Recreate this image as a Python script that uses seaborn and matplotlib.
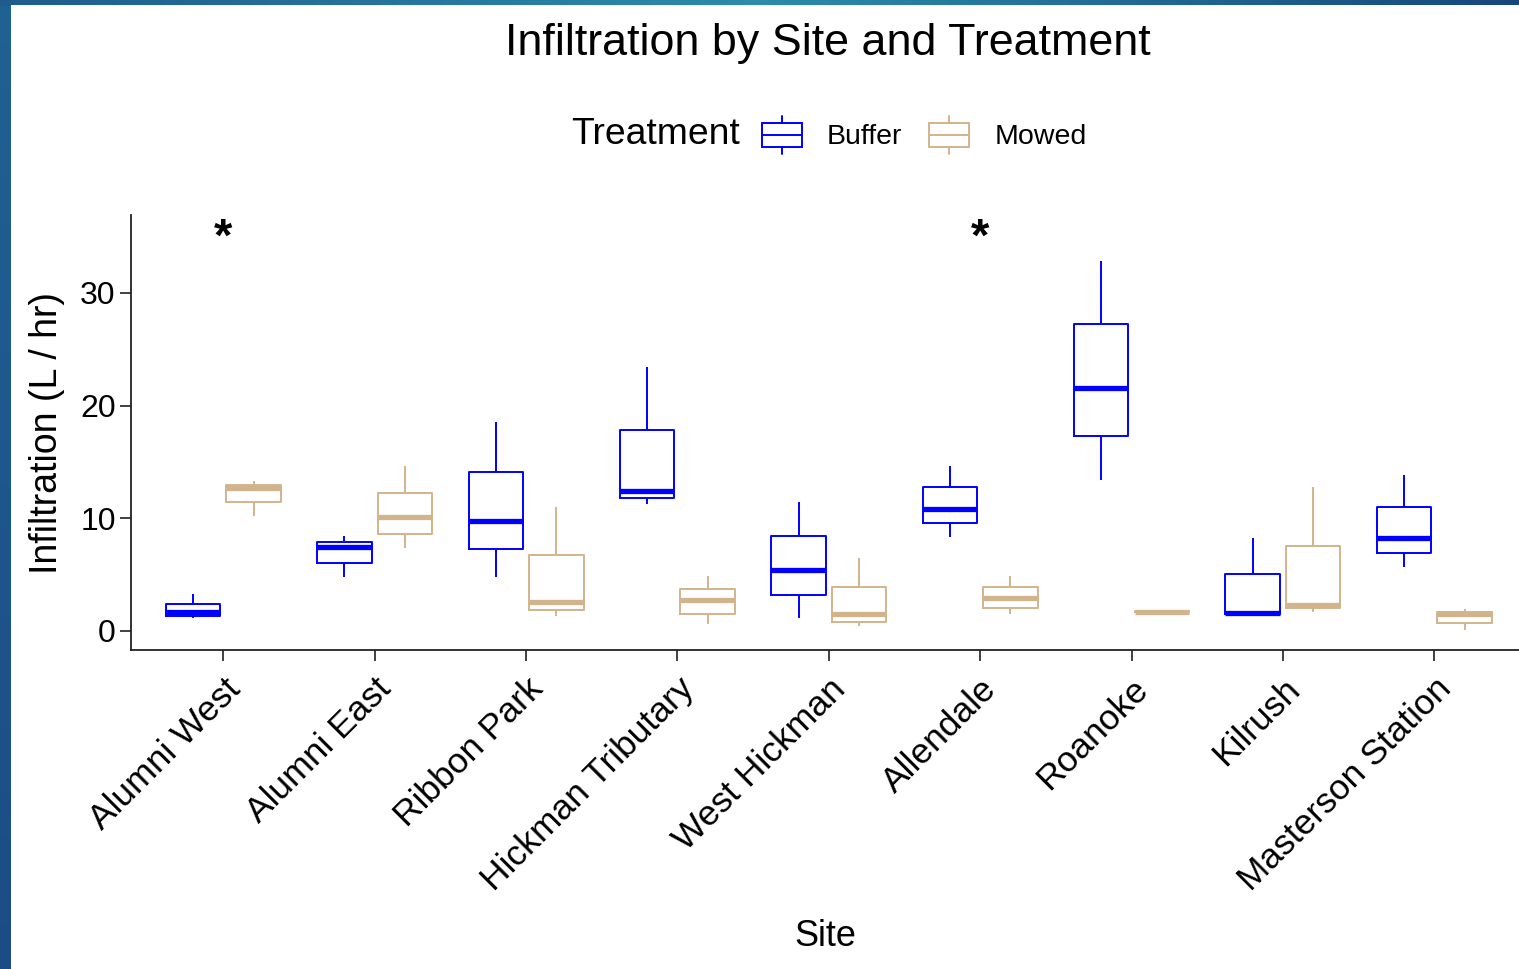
import numpy as np
import pandas as pd
import matplotlib
matplotlib.use("Agg")
import matplotlib.pyplot as plt
import seaborn as sns
from matplotlib.patches import Rectangle, Patch
from matplotlib.lines import Line2D
from matplotlib.legend_handler import HandlerBase

# ---------------- data ----------------
sites = ["Alumni West", "Alumni East", "Ribbon Park", "Hickman Tributary",
         "West Hickman", "Allendale", "Roanoke", "Kilrush", "Masterson Station"]
treatments = ["Buffer", "Mowed"]
colors = ["#0000FF", "#D2B48C"]

# five-number summaries per site: [low whisker, Q1, median, Q3, high whisker]
buffer_stats = [
    [1.13, 1.33, 1.66, 2.36, 3.28],
    [4.82, 6.06, 7.43, 7.93, 8.46],
    [4.82, 7.25, 9.76, 14.10, 18.57],
    [11.24, 11.77, 12.45, 17.84, 23.46],
    [1.18, 3.19, 5.41, 8.43, 11.47],
    [8.37, 9.61, 10.80, 12.80, 14.67],
    [13.40, 17.33, 21.53, 27.24, 32.83],
    [1.45, 1.50, 1.62, 5.06, 8.28],
    [5.70, 6.89, 8.28, 10.97, 13.84],
]
mowed_stats = [
    [10.20, 11.40, 12.66, 12.95, 13.30],
    [7.34, 8.58, 10.09, 12.28, 14.67],
    [1.33, 1.86, 2.54, 6.71, 10.97],
    [0.62, 1.51, 2.75, 3.73, 4.91],
    [0.47, 0.83, 1.51, 3.87, 6.45],
    [1.48, 2.01, 2.90, 3.87, 4.91],
    [1.60, 1.64, 1.70, 1.76, 1.80],
    [1.66, 2.01, 2.31, 7.57, 12.80],
    [0.09, 0.68, 1.51, 1.66, 1.92],
]
star_sites = ["Alumni West", "Allendale"]
star_y = 33.7
y_ticks = [0, 10, 20, 30]

rows = []
for s, bs, ms in zip(sites, buffer_stats, mowed_stats):
    for v in bs:
        rows.append((s, "Buffer", v))
    for v in ms:
        rows.append((s, "Mowed", v))
df = pd.DataFrame(rows, columns=["Site", "Treatment", "Infiltration"])

# ---------------- style ----------------
sns.set_theme(style="ticks")
plt.rcParams["font.family"] = ["Liberation Sans", "DejaVu Sans"]
plt.rcParams["text.color"] = "black"
plt.rcParams["axes.labelcolor"] = "black"

W, H = 1519, 969
fig = plt.figure(figsize=(W / 100, H / 100), dpi=100)

# decorative slide background (blue gradient frame)
bg = fig.add_axes([0, 0, 1, 1], zorder=-5)
bg.set_xlim(0, W)
bg.set_ylim(H, 0)
bg.axis("off")
yy = np.linspace(0, 1, H)[:, None]
c_top = np.array([0x20, 0x62, 0x92]) / 255
c_bot = np.array([0x1c, 0x4c, 0x85]) / 255
img = (c_top[None, None, :] * (1 - yy[..., None]) + c_bot[None, None, :] * yy[..., None]) * np.ones((1, W, 1))
h_left = np.array([0x1f, 0x5c, 0x8e]) / 255
h_mid = np.array([0x2c, 0x8c, 0xaa]) / 255
h_right = np.array([0x16, 0x47, 0x7e]) / 255
xs = np.linspace(0, 1, W)
hprof = np.where(xs[:, None] < 0.5,
                 h_left * (1 - xs[:, None] / 0.5) + h_mid * (xs[:, None] / 0.5),
                 h_mid * (1 - (xs[:, None] - 0.5) / 0.5) + h_right * ((xs[:, None] - 0.5) / 0.5))
img[:6, :, :] = hprof[None, :, :]
bg.imshow(img, extent=(0, W, H, 0), aspect="auto")
bg.add_patch(Rectangle((11, 5), W - 11, H - 5, facecolor="white", edgecolor="none"))

# main axes
ax = fig.add_axes([131 / W, 1 - 650 / H, (W - 131) / W, (650 - 215) / H], zorder=1)
ax.set_facecolor("white")

sns.boxplot(data=df, x="Site", y="Infiltration", hue="Treatment",
            order=sites, hue_order=treatments, palette=colors,
            fill=False, width=0.8, gap=0.1, whis=(0, 100), showcaps=False,
            linewidth=1.4, medianprops={"linewidth": 3.8},
            legend=False, ax=ax)

for s in star_sites:
    ax.text(sites.index(s), star_y, "*", ha="center", va="baseline",
            fontsize=34, fontweight="bold", color="black")

ax.set_xlim(-0.61, 8.56)
ax.set_ylim(-1.69, 36.9)
ax.set_yticks(y_ticks)
sns.despine(ax=ax)
for sp in ["left", "bottom"]:
    ax.spines[sp].set_color("#222222")
    ax.spines[sp].set_linewidth(1.3)
ax.tick_params(axis="both", length=8, width=1.3, color="#333333", labelcolor="black")
ax.tick_params(axis="y", labelsize=23, pad=3)
ax.tick_params(axis="x", labelsize=25.5, pad=8)
plt.setp(ax.get_xticklabels(), rotation=45, ha="right", va="top", rotation_mode="anchor")

ax.set_xlabel("Site", fontsize=26, color="black")
ax.set_ylabel("Infiltration (L / hr)", fontsize=27, color="black")
ax.xaxis.set_label_coords(0.5, (650 - 937) / 435)
ax.xaxis.label.set_va("center")
ax.yaxis.set_label_coords((47 - 131) / (W - 131), (650 - 433) / 435)
ax.yaxis.label.set_va("center")

fig.text(828 / W, 1 - 43 / H, "Infiltration by Site and Treatment",
         ha="center", va="center", fontsize=32.3, color="black")


# legend with small boxplot keys
class BoxKey(HandlerBase):
    def create_artists(self, legend, orig_handle, xdescent, ydescent,
                       width, height, fontsize, trans):
        c = orig_handle.get_edgecolor()
        x0, y0 = -xdescent, -ydescent
        bh = height * 0.62
        by = y0 + (height - bh) / 2
        rect = Rectangle((x0, by), width, bh, facecolor="white", edgecolor=c,
                         lw=1.4, transform=trans)
        mid = Line2D([x0, x0 + width], [y0 + height / 2] * 2, color=c, lw=1.4, transform=trans)
        wt = Line2D([x0 + width / 2] * 2, [by + bh, y0 + height], color=c, lw=1.4, transform=trans)
        wb = Line2D([x0 + width / 2] * 2, [y0, by], color=c, lw=1.4, transform=trans)
        return [rect, mid, wt, wb]


handles = [Patch(edgecolor=c, facecolor="white") for c in colors]
fig.text(571 / W, 1 - 135 / H, "Treatment", ha="left", va="center",
         fontsize=26.8, color="black")
leg = fig.legend(handles, treatments, handler_map={Patch: BoxKey()}, ncol=2,
                 loc="center left", bbox_to_anchor=(762 / W, 1 - 135 / H),
                 frameon=False, borderpad=0, borderaxespad=0, fontsize=20.5,
                 handlelength=1.4, handleheight=1.65, handletextpad=0.88,
                 columnspacing=0.95)
for t in leg.get_texts():
    t.set_color("black")

fig.savefig("out.png", dpi=100)
